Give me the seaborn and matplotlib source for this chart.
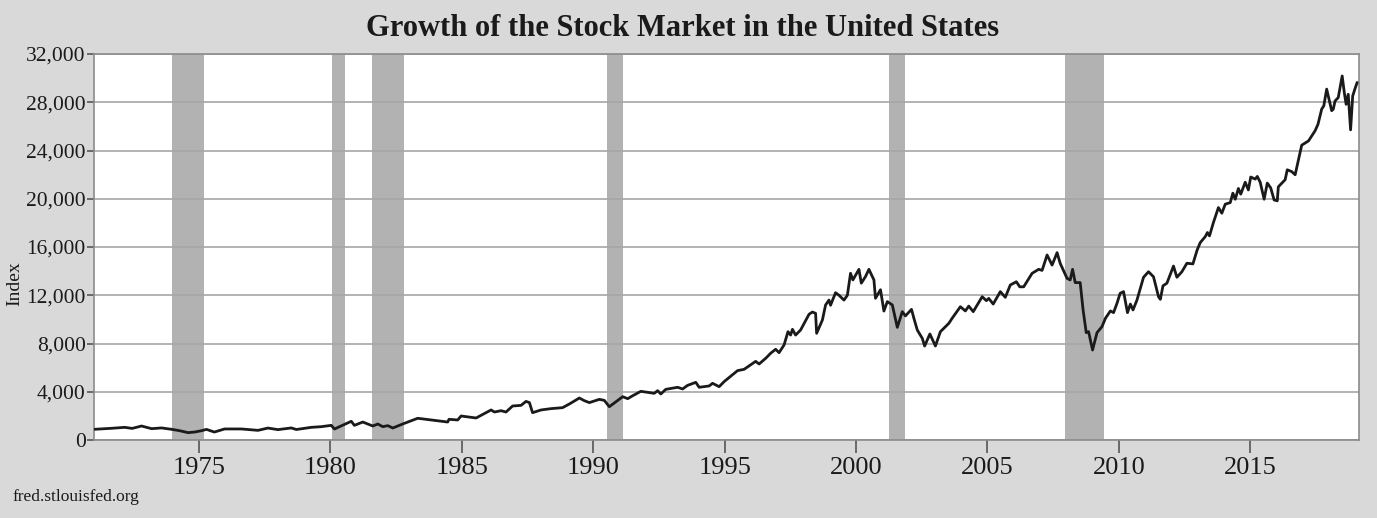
import matplotlib
matplotlib.use("Agg")
import pandas as pd
import matplotlib.pyplot as plt
import seaborn as sns
from matplotlib.ticker import FuncFormatter

# %%
# Index values (decimal year, index level)
years = [
    1971.02, 1971.67, 1972.17, 1972.45, 1972.81, 1973.19, 1973.57, 1973.95,
    1974.26, 1974.58, 1974.83, 1975.09, 1975.28, 1975.58, 1975.97, 1976.61,
    1977.24, 1977.62, 1978.00, 1978.51, 1978.70, 1979.27, 1979.65, 1980.03,
    1980.15, 1980.79, 1980.91, 1981.23, 1981.61, 1981.80, 1981.99, 1982.18,
    1982.37, 1982.81, 1983.32, 1983.83, 1984.46, 1984.51, 1984.84, 1984.97,
    1985.54, 1986.11, 1986.24, 1986.49, 1986.68, 1986.93, 1987.25, 1987.44,
    1987.57, 1987.69, 1988.01, 1988.39, 1988.83, 1989.09, 1989.47, 1989.66,
    1989.85, 1990.23, 1990.42, 1990.61, 1991.12, 1991.31, 1991.50, 1991.81,
    1992.32, 1992.45, 1992.57, 1992.76, 1993.21, 1993.40, 1993.59, 1993.90,
    1994.03, 1994.41, 1994.54, 1994.79, 1994.98, 1995.49, 1995.74, 1996.18,
    1996.31, 1996.56, 1996.75, 1996.94, 1997.07, 1997.26, 1997.41, 1997.51,
    1997.58, 1997.70, 1997.89, 1998.21, 1998.34, 1998.46, 1998.50, 1998.72,
    1998.84, 1998.97, 1999.03, 1999.22, 1999.35, 1999.54, 1999.67, 1999.79,
    1999.88, 2000.11, 2000.20, 2000.36, 2000.49, 2000.68, 2000.74, 2000.93,
    2001.06, 2001.19, 2001.38, 2001.57, 2001.76, 2001.88, 2002.11, 2002.20,
    2002.33, 2002.52, 2002.61, 2002.81, 2003.02, 2003.21, 2003.53, 2003.66,
    2003.97, 2004.16, 2004.29, 2004.46, 2004.80, 2004.96, 2005.05, 2005.22,
    2005.49, 2005.68, 2005.87, 2006.10, 2006.23, 2006.38, 2006.70, 2006.95,
    2007.08, 2007.27, 2007.46, 2007.65, 2007.77, 2008.03, 2008.15, 2008.24,
    2008.34, 2008.53, 2008.64, 2008.76, 2008.85, 2009.00, 2009.17, 2009.36,
    2009.49, 2009.68, 2009.80, 2009.93, 2010.05, 2010.18, 2010.33, 2010.44,
    2010.54, 2010.69, 2010.94, 2011.13, 2011.32, 2011.51, 2011.58, 2011.68,
    2011.83, 2012.08, 2012.21, 2012.40, 2012.59, 2012.82, 2012.98, 2013.10,
    2013.29, 2013.37, 2013.45, 2013.60, 2013.79, 2013.92, 2014.05, 2014.24,
    2014.34, 2014.43, 2014.55, 2014.64, 2014.81, 2014.93, 2015.02, 2015.19,
    2015.27, 2015.38, 2015.53, 2015.65, 2015.78, 2015.91, 2016.03, 2016.07,
    2016.33, 2016.41, 2016.58, 2016.71, 2016.96, 2017.22, 2017.28, 2017.47,
    2017.58, 2017.72, 2017.80, 2017.91, 2018.10, 2018.16, 2018.23, 2018.35,
    2018.50, 2018.58, 2018.65, 2018.73, 2018.82, 2018.90, 2018.99, 2019.07,
]
index_values = [
    887, 970, 1050, 960, 1160, 940, 1000, 887,
    770, 610, 660, 770, 880, 660, 915, 915,
    800, 990, 860, 1000, 870, 1050, 1105, 1215,
    910, 1550, 1215, 1490, 1160, 1326, 1105, 1190,
    995, 1380, 1800, 1660, 1490, 1715, 1660, 1990,
    1825, 2490, 2320, 2430, 2320, 2820, 2870, 3200,
    3100, 2265, 2490, 2600, 2680, 2985, 3480, 3260,
    3100, 3370, 3285, 2760, 3590, 3425, 3670, 4035,
    3870, 4090, 3815, 4200, 4370, 4230, 4530, 4780,
    4370, 4480, 4700, 4420, 4840, 5750, 5860, 6520,
    6300, 6770, 7190, 7520, 7240, 7875, 8980, 8700,
    9175, 8700, 9120, 10420, 10610, 10500, 8845, 9950,
    11190, 11600, 11170, 12210, 12000, 11600, 12000, 13820,
    13270, 14150, 13000, 13550, 14150, 13270, 11750, 12460,
    10690, 11470, 11200, 9340, 10640, 10290, 10830, 10100,
    9120, 8430, 7790, 8790, 7790, 8980, 9670, 10100,
    11050, 10700, 11100, 10640, 11880, 11550, 11740, 11270,
    12300, 11830, 12850, 13120, 12700, 12700, 13820, 14150,
    14060, 15340, 14500, 15530, 14640, 13400, 13270, 14150,
    13050, 13050, 10780, 8900, 8980, 7460, 8900, 9400,
    10090, 10700, 10560, 11330, 12160, 12300, 10560, 11270,
    10780, 11600, 13490, 13950, 13530, 11880, 11660, 12780,
    13000, 14420, 13490, 13950, 14650, 14600, 15750, 16370,
    16860, 17200, 16920, 18030, 19270, 18800, 19550, 19680,
    20460, 19960, 20850, 20380, 21370, 20730, 21800, 21630,
    21850, 21370, 19960, 21300, 20900, 19900, 19830, 20990,
    21580, 22400, 22250, 21990, 24440, 24800, 25000, 25640,
    26180, 27430, 27700, 29090, 27300, 27420, 28110, 28390,
    30180, 28810, 27830, 28660, 25710, 28520, 29140, 29640,
]

# Recession periods (shaded)
rec_start = [1973.95, 1980.07, 1981.58, 1990.52, 2001.25, 2007.97]
rec_end = [1975.20, 1980.57, 1982.81, 1991.15, 2001.87, 2009.42]

year_ticks = [1975, 1980, 1985, 1990, 1995, 2000, 2005, 2010, 2015]
value_ticks = [0, 4000, 8000, 12000, 16000, 20000, 24000, 28000, 32000]

# %%
sns.set_theme(style="white")
plt.rcParams['font.family'] = ['Liberation Serif', 'DejaVu Serif']

df = pd.DataFrame({'year': years, 'index': index_values})

fig = plt.figure(figsize=(13.77, 5.18), dpi=100, facecolor='#d9d9d9')
ax = fig.add_axes([94 / 1377, 78 / 518, 1265 / 1377, 386 / 518])
ax.set_facecolor('white')

for s, e in zip(rec_start, rec_end):
    ax.axvspan(s, e, color='#b2b2b2', lw=0, zorder=0.3)

ax.yaxis.grid(True, color='#a6a6a6', lw=1.2, zorder=0.5)
ax.set_axisbelow(True)

sns.lineplot(data=df, x='year', y='index', estimator=None, color='#1a1a1a',
             linewidth=2.0, ax=ax, zorder=3)

ax.set_xlim(1971.0, 2019.14)
ax.set_ylim(0, 32000)
ax.set_xticks(year_ticks)
ax.set_yticks(value_ticks)
ax.yaxis.set_major_formatter(FuncFormatter(lambda v, p: f'{int(v):,}'))
ax.set_xlabel('')
ax.set_ylabel('')

for sp in ax.spines.values():
    sp.set_color('#8c8c8c')
    sp.set_linewidth(1.2)

ax.tick_params(axis='x', direction='out', length=9, width=1.2, color='#555555',
               labelsize=19, pad=3, bottom=True, labelcolor='#1a1a1a')
ax.tick_params(axis='y', direction='out', length=5, width=1.2, color='#555555',
               labelsize=15.5, pad=1, left=True, labelcolor='#1a1a1a')

fig.text(0.496, 1 - 28 / 518, 'Growth of the Stock Market in the United States',
         ha='center', va='center', fontsize=22, fontweight='bold', color='#1a1a1a')
fig.text(15 / 1377, 1 - 284 / 518, 'Index', rotation=90, ha='center',
         va='center', fontsize=14, color='#1a1a1a')
fig.text(12 / 1377, 1 - 497 / 518, 'fred.stlouisfed.org', ha='left',
         va='center', fontsize=12.5, color='#1a1a1a')

fig.savefig('out.png', dpi=100, facecolor=fig.get_facecolor())
